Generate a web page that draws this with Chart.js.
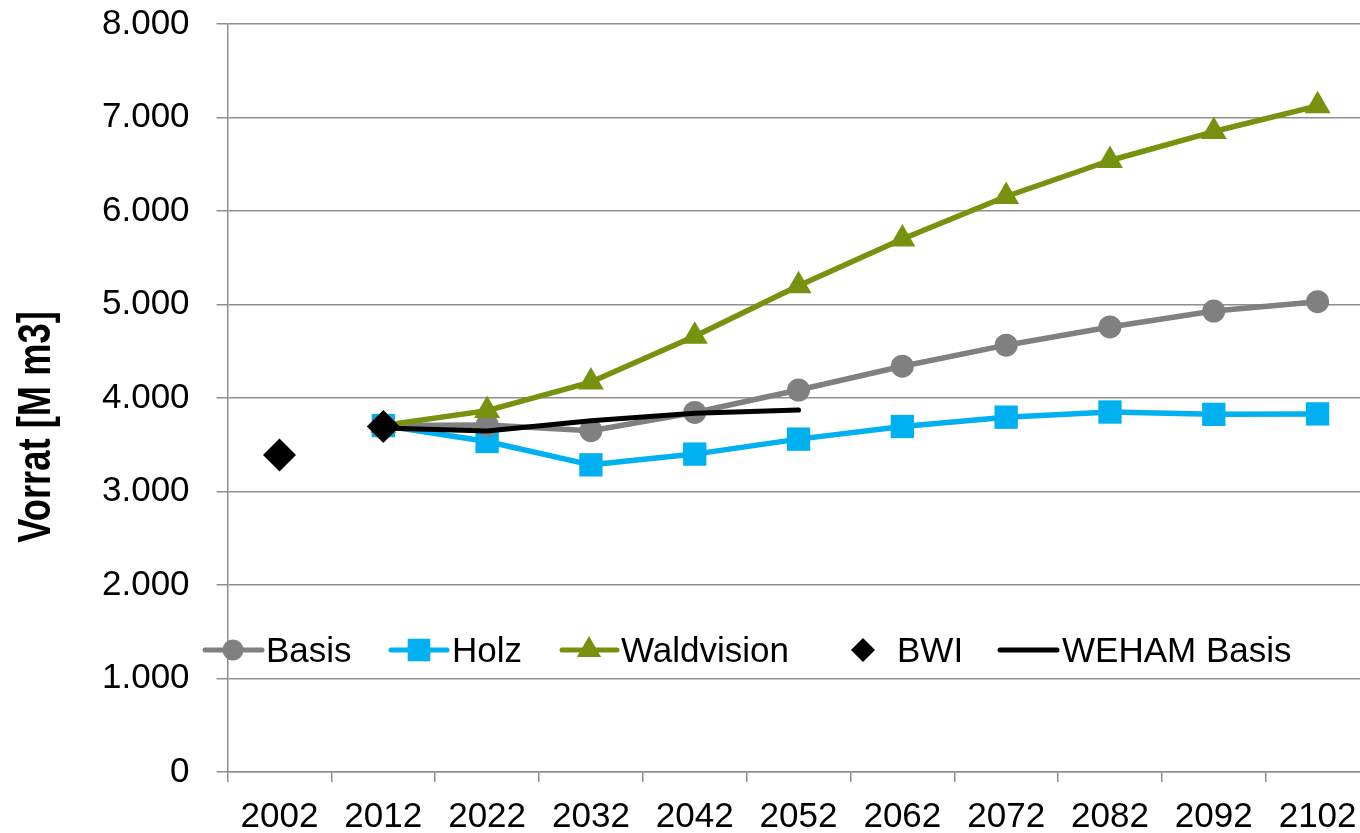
<!DOCTYPE html>
<html><head><meta charset="utf-8">
<script src="https://cdn.jsdelivr.net/npm/chart.js@4/dist/chart.umd.min.js"></script>
<style>html,body{margin:0;padding:0;background:#fff;overflow:hidden;width:1360px;height:833px}
#wrap{position:absolute;left:0;top:0;width:1360px;height:833px;overflow:hidden}canvas{display:block}</style>
</head><body>
<div id="wrap"><canvas id="c" width="1386" height="833"></canvas></div>
<script>
// ---- data ----
const years = ['2002','2012','2022','2032','2042','2052','2062','2072','2082','2092','2102'];
const basis = [null, 3705, 3710, 3650, 3845, 4085, 4340, 4565, 4760, 4930, 5030];
const holz = [null, 3705, 3535, 3285, 3400, 3560, 3695, 3795, 3850, 3825, 3830];
const waldvision = [null, 3705, 3865, 4170, 4660, 5200, 5700, 6155, 6540, 6850, 7125];
const bwi = [3390, 3695, null, null, null, null, null, null, null, null, null];
const wehamBasis = [null, 3680, 3648, 3757, 3836, 3872, null, null, null, null, null];
const yTicks = [0, 1000, 2000, 3000, 4000, 5000, 6000, 7000, 8000];
const yTitle = 'Vorrat [M m3]';
const seriesNames = ['Basis', 'Holz', 'Waldvision', 'BWI', 'WEHAM Basis'];

const GRAY = '#808080', BLUE = '#00B0F0', GREEN = '#76920E', BLACK = '#000000';
const GRID = '#8f8f8f';
const FONT = 'Liberation Sans, Arial, sans-serif';

function fmt(v){ return String(v).replace(/\B(?=(\d{3})+(?!\d))/g, '.'); }

function drawMarker(ctx, style, x, y, r, color){
  ctx.fillStyle = color;
  ctx.beginPath();
  if (style === 'circle') ctx.arc(x, y, r, 0, Math.PI*2);
  else if (style === 'rect') { const s = r*Math.SQRT1_2; ctx.rect(x-s, y-s, 2*s, 2*s); }
  else if (style === 'triangle') {
    ctx.moveTo(x, y - r);
    ctx.lineTo(x + r*0.866, y + r*0.5);
    ctx.lineTo(x - r*0.866, y + r*0.5);
    ctx.closePath();
  } else if (style === 'rectRot') {
    ctx.moveTo(x - r, y); ctx.lineTo(x, y - r); ctx.lineTo(x + r, y); ctx.lineTo(x, y + r); ctx.closePath();
  }
  ctx.fill();
}

const legendPlugin = {
  id: 'customLegend',
  afterDraw(chart){
    const ctx = chart.ctx;
    const y = 650;
    // [lineStart, lineEnd, markerX, textX] per dataset
    const pos = [[205, 262, 233, 266], [391, 447, 419, 452], [562, 617, 589, 621], [null, null, 863, 897], [1000, 1057, null, 1062]];
    const sizes = [10.5, 16, 14, 12, 0];
    chart.data.datasets.forEach((ds, i) => {
      const p = pos[i];
      ctx.save();
      if (p[0] !== null) {
        ctx.strokeStyle = ds.borderColor; ctx.lineWidth = 5; ctx.lineCap = 'round';
        ctx.beginPath(); ctx.moveTo(p[0], y); ctx.lineTo(p[1], y); ctx.stroke();
      }
      if (p[2] !== null) drawMarker(ctx, ds.pointStyle, p[2], y, sizes[i], ds.pointBackgroundColor);
      ctx.fillStyle = '#000';
      ctx.font = '35px ' + FONT;
      ctx.textAlign = 'left'; ctx.textBaseline = 'alphabetic';
      ctx.fillText(ds.label, p[3], 662);
      ctx.restore();
    });
  }
};

const yTitlePlugin = {
  id: 'yTitle',
  afterDraw(chart){
    const ctx = chart.ctx;
    ctx.save();
    ctx.translate(50, 427);
    ctx.rotate(-Math.PI/2);
    ctx.scale(0.79, 1);
    ctx.fillStyle = '#000';
    ctx.font = 'bold 46px ' + FONT;
    ctx.textAlign = 'center'; ctx.textBaseline = 'alphabetic';
    ctx.fillText(yTitle, 0, 0);
    ctx.restore();
  }
};

new Chart(document.getElementById('c'), {
  type: 'line',
  data: {
    labels: years,
    datasets: [
      { label: seriesNames[0], data: basis, borderColor: GRAY, backgroundColor: GRAY, pointBackgroundColor: GRAY,
        pointStyle: 'circle', pointRadius: 11.5, order: 3 },
      { label: seriesNames[1], data: holz, borderColor: BLUE, backgroundColor: BLUE, pointBackgroundColor: BLUE,
        pointStyle: 'rect', pointRadius: 16.5, order: 4 },
      { label: seriesNames[2], data: waldvision, borderColor: GREEN, backgroundColor: GREEN, pointBackgroundColor: GREEN,
        pointStyle: 'triangle', pointRadius: 15, order: 2 },
      { label: seriesNames[3], data: bwi, borderColor: BLACK, backgroundColor: BLACK, pointBackgroundColor: BLACK,
        pointStyle: 'rectRot', pointRadius: 16.5, showLine: false, order: 0 },
      { label: seriesNames[4], data: wehamBasis, borderColor: BLACK, backgroundColor: BLACK, pointBackgroundColor: BLACK,
        pointStyle: 'circle', pointRadius: 0, borderWidth: 5, order: 1 }
    ]
  },
  options: {
    responsive: false,
    animation: false,
    devicePixelRatio: 1,
    datasets: { line: { borderWidth: 5.5, tension: 0, pointBorderWidth: 0, pointHoverRadius: 0,
      borderCapStyle: 'round', borderJoinStyle: 'round', spanGaps: false } },
    layout: { padding: { left: 75, top: 0, right: 2, bottom: -19 } },
    plugins: { legend: { display: false }, tooltip: { enabled: false }, title: { display: false } },
    scales: {
      x: {
        offset: true,
        afterFit(scale){ scale.paddingLeft = 0; scale.paddingRight = 0; },
        grid: { offset: true, drawOnChartArea: false, drawTicks: true, tickLength: 10, color: GRID, lineWidth: 1.5 },
        border: { display: true, color: GRID, width: 1.5 },
        ticks: { color: '#000', font: { family: FONT, size: 35 }, padding: 14, autoSkip: false, maxRotation: 0, minRotation: 0 }
      },
      y: {
        min: 0, max: 8000,
        afterFit(scale){ scale.paddingTop = 24; scale.paddingBottom = 0; },
        afterBuildTicks(scale){ scale.ticks = yTicks.map(v => ({ value: v })); },
        grid: { drawOnChartArea: true, drawTicks: true, tickLength: 11, color: GRID, lineWidth: 1.5 },
        border: { display: true, color: GRID, width: 1.5 },
        ticks: { color: '#000', font: { family: FONT, size: 35 }, padding: 27, callback: v => fmt(v) }
      }
    }
  },
  plugins: [legendPlugin, yTitlePlugin]
});
</script>
</body></html>
